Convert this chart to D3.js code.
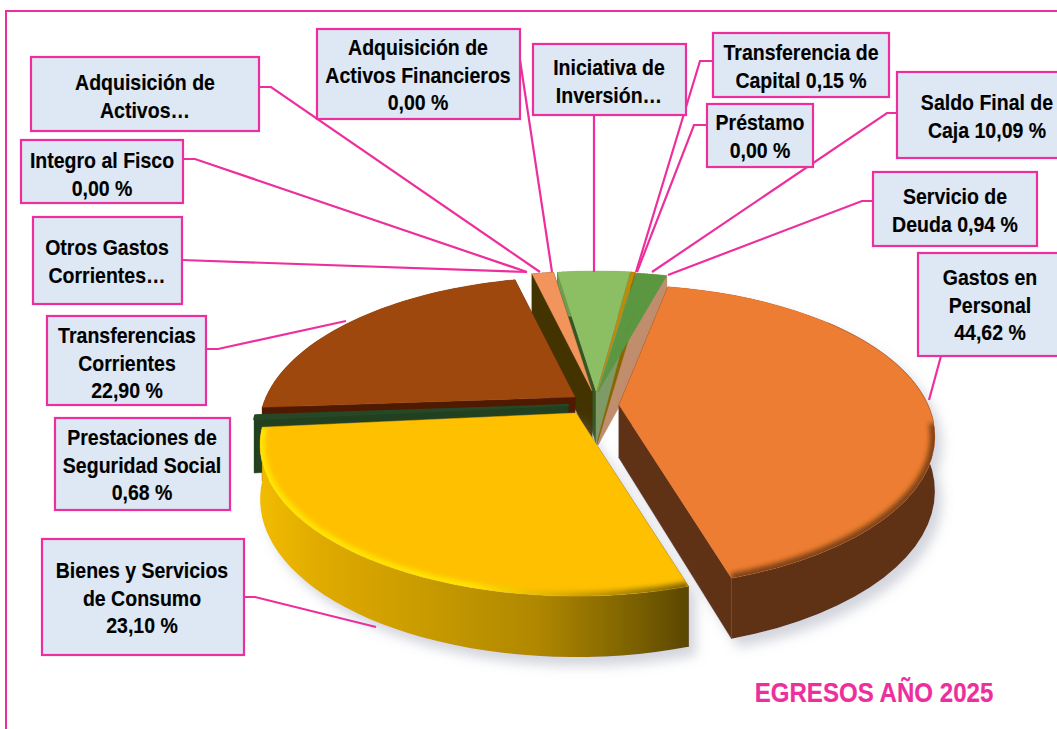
<!DOCTYPE html>
<html><head><meta charset="utf-8">
<script src="https://cdn.jsdelivr.net/npm/d3@7/dist/d3.min.js"></script>
<style>html,body{margin:0;padding:0;background:#fff;overflow:hidden}svg{display:block}</style>
</head><body><svg id="c" width="1057" height="729"></svg>
<script>
// DATA (clockwise from the Gastos en Personal slice)
const categories = ["Gastos en Personal","Bienes y Servicios de Consumo","Prestaciones de Seguridad Social","Transferencias Corrientes","Otros Gastos Corrientes","Integro al Fisco","Adquisición de Activos","Adquisición de Activos Financieros","Iniciativa de Inversión","Transferencia de Capital","Préstamo","Saldo Final de Caja","Servicio de Deuda"];
const values = [44.62,23.10,0.68,22.90,0,0,1.46,0,4.88,0.28,0,1.14,0.94];
const labelLines = [
 ["Gastos en","Personal","44,62 %"],["Bienes y Servicios","de Consumo","23,10 %"],["Prestaciones de","Seguridad Social","0,68 %"],
 ["Transferencias","Corrientes","22,90 %"],["Otros Gastos","Corrientes…"],["Integro al Fisco","0,00 %"],["Adquisición de","Activos…"],
 ["Adquisición de","Activos Financieros","0,00 %"],["Iniciativa de","Inversión…"],["Transferencia de","Capital 0,15 %"],["Préstamo","0,00 %"],
 ["Saldo Final de","Caja 10,09 %"],["Servicio de","Deuda 0,94 %"]];
const title = "EGRESOS AÑO 2025";

// STYLE / LAYOUT
const PINK="#EC2F9C", BOX="#DEE8F4";
const faceColors=["#ED7D31","#FFC000","#264826","#9E480E","#000","#000","#F1955C","#000","#8CBF64","#BF8A06","#000","#5B9640","#5B9640"];
const outerWall =["#5F3013","url(#yw)","#21401F","#4F1A00","#000","#000","#433300","#000","#6F9A50","#8a6400","#000","#C08E6C","#C08E6C"];
const startWall =["#5F3013","#5F4A00","#21401F","#4F1A00","#000","#000","#433300","#000","#375623","#8a6400","#000","#7e9a66","#7e9a66"];
const endWall   =["#5F3013","#5F4A00","#21401F","#4F1A00","#000","#000","#433300","#000","#7e9a66","#8a6400","#000","#C08E6C","#C08E6C"];
const apex=[[619,405],[576,413],[568,405],[575,397],[592,391],[592,391],[592,391],[592,391],[596,391],[597,391],[598,392],[598,392],[598,392]];
// boxes: x,y,w,h ; text centre x, first baseline
const boxes=[[918,253,145,103,990,285],[42,539,202,116,142,578],[55,418,175,92,142,445],[47,316,159,89,127,343],[33,217,149,87,107,255],[21,140,162,63,102,168],[31,57,228,74,145,90],[317,29,203,90,418,55],[533,44,153,71,609,75],[713,33,176,64,801,60],[707,104,106,63,760,130],[897,72,170,86,987,110],[873,172,164,74,955,204]];
const leaders=[[[941,356],[929,400]],[[244,597],[255,597],[376,627]],[],[[206,349],[218,349],[346,321]],[[182,260],[527,272]],[[183,159],[195,159],[527,272]],[[259,87],[271,87],[540,272]],[[520,60],[552,272]],[[594,115],[594,272]],[[713,61],[700,61],[636,272]],[[707,125],[694,125],[637,272]],[[897,113],[887,113],[652,272]],[[873,201],[862,201],[668,275]]];

// Projection of the tilted disc
const P={A:145,B:309,p:0.208};
const warp=d3.scaleLinear().domain([0,160.6,243.8,246.3,328.7,360]).range([11,163,264.5,266,346.5,375.5]);
const arcs=d3.pie().value(d=>d).sort(null)(values);
const toDeg=r=>r*180/Math.PI;
function proj(o,theta,r,h){
  const t=theta*Math.PI/180,u=r*Math.sin(t),v=r*Math.cos(t),w=1+P.p*v;
  return [o[0]+P.B*u/w, o[1]-P.A*v/w+(h?53-8*v:0)];
}
const line=d3.line();
const range=(a,b)=>d3.range(0,41).map(i=>a+(b-a)*i/40);
const svg=d3.select("#c");
const defs=svg.append("defs");
const yw=defs.append("linearGradient").attr("id","yw").attr("gradientUnits","userSpaceOnUse").attr("x1",258).attr("x2",688).attr("y1",0).attr("y2",0);
[[0,"#F2BC00"],[.15,"#DFAA00"],[.4,"#C79A00"],[.65,"#B08700"],[.88,"#7A6000"],[1,"#5A4600"]].forEach(s=>yw.append("stop").attr("offset",s[0]).attr("stop-color",s[1]));
const yr=defs.append("linearGradient").attr("id","yr").attr("gradientUnits","userSpaceOnUse").attr("x1",258).attr("x2",688).attr("y1",0).attr("y2",0);
[[0,"#FFE800"],[.5,"#FFE400"],[.72,"#D8A800"],[1,"#7A6000"]].forEach(s=>yr.append("stop").attr("offset",s[0]).attr("stop-color",s[1]));
const sh=defs.append("filter").attr("id","sh").attr("x","-20%").attr("y","-20%").attr("width","140%").attr("height","150%");
sh.append("feDropShadow").attr("dx",7).attr("dy",9).attr("stdDeviation",6).attr("flood-color","#8e93a6").attr("flood-opacity",.38);
defs.append("filter").attr("id","bl").append("feGaussianBlur").attr("stdDeviation",2.4);

// frame
svg.append("path").attr("d",line([[6,729],[6,11],[1057,11]])).attr("fill","none").attr("stroke",PINK).attr("stroke-width",2);

function drawWalls(i,parent){
  const a=arcs[i]; if(a.value===0) return null;
  const t0=warp(toDeg(a.startAngle)),t1=warp(toDeg(a.endAngle)),o=apex[i];
  const g=parent.append("g").attr("class","slice");
  if(i===0||i===1) g.attr("filter","url(#sh)");
  const ts=range(t0,t1);
  const top=ts.map(t=>proj(o,t,1,false));
  const wallPts=top.concat(ts.slice().reverse().map(t=>proj(o,t,1,true)));
  const wall=(t,c)=>g.append("path").attr("d",line([proj(o,t,0,false),proj(o,t,1,false),proj(o,t,1,true),proj(o,t,0,true)])+"Z").attr("fill",c).attr("stroke",c).attr("stroke-width",.5);
  wall(t0,startWall[i]); wall(t1,endWall[i]);
  g.append("path").attr("d",line(wallPts)+"Z").attr("fill",outerWall[i]);
  return {g,o,t0,t1,top};
}
function drawFace(s,i,parent){
  if(!s) return;
  const d=line([s.o,...s.top])+"Z";
  const g=parent||s.g;
  g.append("path").attr("d",d).attr("fill",faceColors[i]).attr("stroke",faceColors[i]).attr("stroke-width",i===2?2:.4).attr("stroke-linejoin","round");
  if(i===0||i===1){
    const id="cl"+i;
    defs.append("clipPath").attr("id",id).append("path").attr("d",d);
    const span=i===0?[97,s.t1]:[s.t0,s.t1];
    g.append("g").attr("clip-path",`url(#${id})`).append("path")
      .attr("d",line(range(span[0],span[1]).map(t=>proj(s.o,t,1,false))))
      .attr("fill","none").attr("stroke",i===0?"#7E4218":"url(#yr)").attr("stroke-width",i===0?10:9).attr("filter","url(#bl)");
  }
  if(i===0){ // thin soft edge on the far side of the arc
    g.append("path").attr("d",line(range(50,97).map(t=>proj(s.o,t,1,false))))
      .attr("fill","none").attr("stroke","#B5683A").attr("stroke-width",.9);
  }
}
// painter's order: back slices first, all their walls below all their faces
const backWalls=svg.append("g"), backFaces=svg.append("g");
[11,12,9,8,6].map(i=>[i,drawWalls(i,backWalls)]).forEach(([i,s])=>drawFace(s,i,backFaces));
[3,0,2,1].forEach(i=>drawFace(drawWalls(i,svg),i));

// leaders and labels
svg.append("g").selectAll("path").data(leaders.filter(l=>l.length)).join("path")
  .attr("d",d=>line(d)).attr("fill","none").attr("stroke",PINK).attr("stroke-width",2.2);
const boxG=svg.append("g").selectAll("g").data(categories).join("g");
boxG.append("rect").attr("x",(d,i)=>boxes[i][0]).attr("y",(d,i)=>boxes[i][1]).attr("width",(d,i)=>boxes[i][2]).attr("height",(d,i)=>boxes[i][3])
  .attr("fill",BOX).attr("stroke",PINK).attr("stroke-width",2.2);
boxG.each(function(d,i){
  const b=boxes[i];
  d3.select(this).selectAll("text").data(labelLines[i]).join("text")
   .attr("transform",(t,j)=>`translate(${b[4]},${b[5]+j*27.6}) scale(.868,1)`)
   .attr("text-anchor","middle").attr("font-family","'Liberation Sans',Arial,sans-serif").attr("font-weight",700).attr("font-size",22.5).attr("fill","#000").attr("stroke","#000").attr("stroke-width",.15).text(t=>t);
});
svg.append("text").attr("transform","translate(874,702) scale(.86,1)").attr("text-anchor","middle")
  .attr("font-family","'Liberation Sans',Arial,sans-serif").attr("font-weight",700).attr("font-size",28).attr("fill",PINK).attr("stroke",PINK).attr("stroke-width",.2).text(title);
</script></body></html>
